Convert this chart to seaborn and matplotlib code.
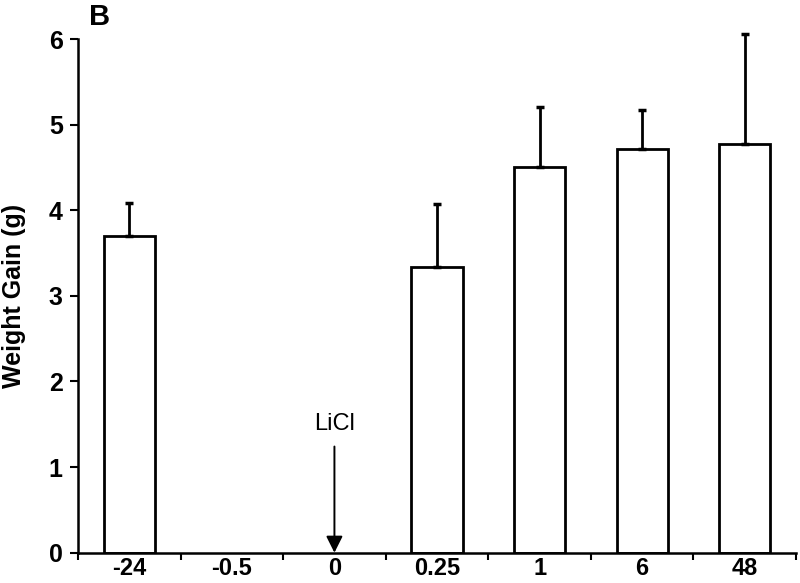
import matplotlib
matplotlib.use("Agg")
import matplotlib.pyplot as plt
import seaborn as sns
import pandas as pd

# Data
time_labels = ["-24", "-0.5", "0", "0.25", "1", "6", "48"]
bar_times = ["-24", "0.25", "1", "6", "48"]
weight_gain = [3.70, 3.34, 4.51, 4.72, 4.77]
sem_upper = [0.38, 0.73, 0.70, 0.45, 1.29]
y_ticks = [0, 1, 2, 3, 4, 5, 6]

sns.set_style("ticks")
plt.rcParams["font.family"] = ["Liberation Sans", "DejaVu Sans"]
for k in ["text.color", "axes.labelcolor", "xtick.color", "ytick.color", "axes.edgecolor"]:
    plt.rcParams[k] = "black"

fig = plt.figure(figsize=(8.0, 5.83), dpi=100)
ax = fig.add_axes([0.0975, 0.052, 0.8975, 0.881])

df = pd.DataFrame({"time": bar_times, "gain": weight_gain})
sns.barplot(data=df, x="time", y="gain", order=time_labels, ax=ax,
            color="white", edgecolor="black", linewidth=2.0, width=0.5,
            errorbar=None)

# upper-only error bars
lookup = dict(zip(bar_times, zip(weight_gain, sem_upper)))
xs, ys, es = [], [], []
for i, lab in enumerate(time_labels):
    if lab in lookup:
        xs.append(i)
        ys.append(lookup[lab][0])
        es.append(lookup[lab][1])
eb = ax.errorbar(xs, ys, yerr=[[0] * len(es), es], fmt="none", ecolor="black",
                 elinewidth=2.0, capsize=3, capthick=2.5, zorder=1)
for art in eb.lines[1] + eb.lines[2]:
    art.set_clip_on(False)

ax.set_xlim(-0.5, 6.5)
ax.set_ylim(0, 6)
ax.set_yticks(y_ticks)
ax.set_yticklabels([str(t) for t in y_ticks], fontsize=18, fontweight="bold")
ax.set_xticks(range(len(time_labels)))
ax.set_xticklabels(time_labels, fontsize=17, fontweight="bold")
ax.tick_params(axis="x", length=0, pad=3)
ax.set_xticks([i + 0.5 for i in range(-1, len(time_labels))], minor=True)
ax.tick_params(axis="x", which="minor", length=5, width=1.5, direction="out")
ax.tick_params(axis="y", length=6, width=1.5, direction="out", pad=5)
ax.set_xlabel("")
ax.set_ylabel("Weight Gain (g)", fontsize=18, fontweight="bold", labelpad=16)

for s in ["top", "right"]:
    ax.spines[s].set_visible(False)
for s in ["left", "bottom"]:
    ax.spines[s].set_linewidth(1.8)

# LiCl arrow at time 0
xi = time_labels.index("0")
ax.annotate("", xy=(xi, 0), xytext=(xi, 1.24),
            arrowprops=dict(arrowstyle="-|>,head_length=1.0,head_width=0.5",
                            color="black", lw=1.4, shrinkA=0, shrinkB=0))
ax.text(xi, 1.50, "LiCl", ha="center", va="center", fontsize=17)

fig.text(0.124, 0.971, "B", fontsize=21, fontweight="bold", ha="center", va="center")

fig.savefig("out.png", dpi=100)
